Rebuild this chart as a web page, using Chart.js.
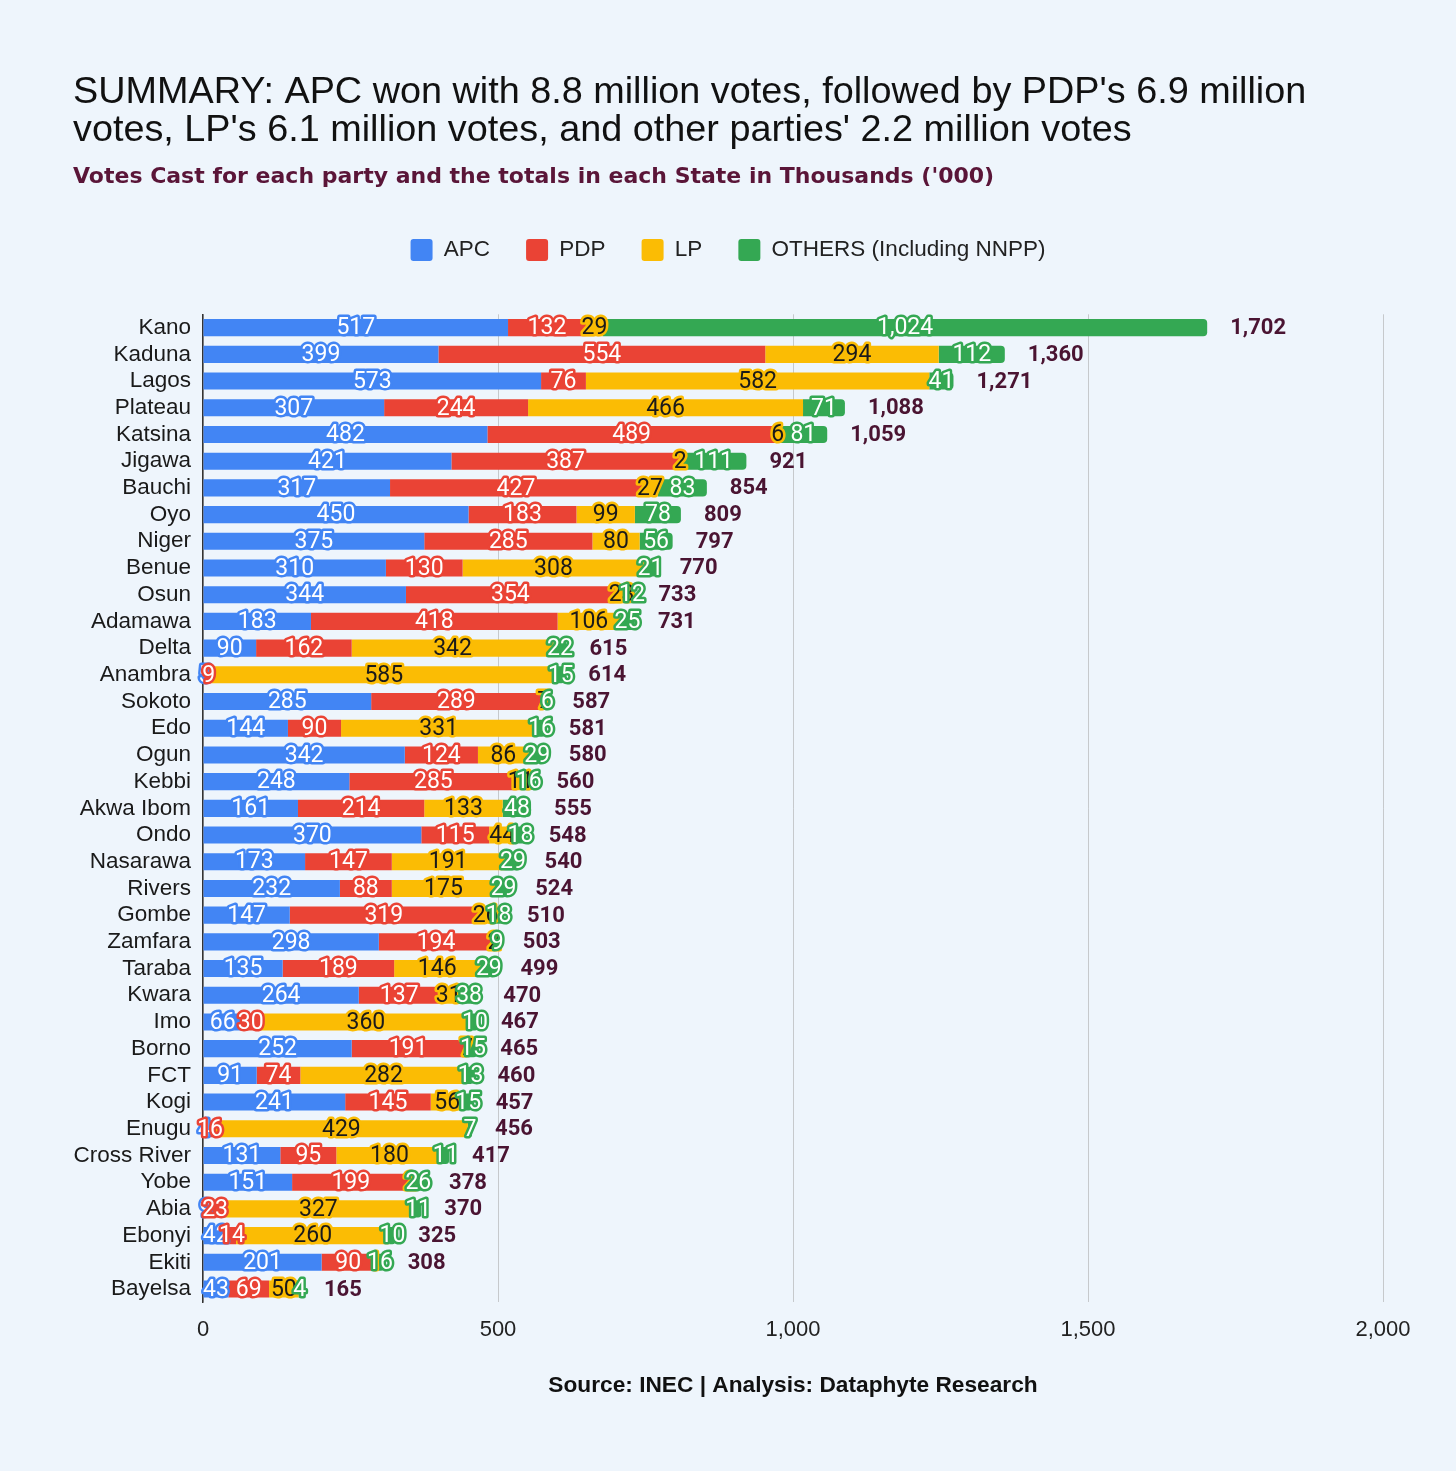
<!DOCTYPE html>
<html>
<head>
<meta charset="utf-8">
<script src="https://cdn.jsdelivr.net/npm/chart.js@4.4.1/dist/chart.umd.min.js"></script>
<style>
  html, body { margin: 0; padding: 0; background: #eef5fc; }
  #wrap { width: 1456px; height: 1471px; }
</style>
</head>
<body>
<div id="wrap"><canvas id="votesChart" width="1456" height="1471"></canvas></div>
<script>
const states = ['Kano', 'Kaduna', 'Lagos', 'Plateau', 'Katsina', 'Jigawa', 'Bauchi', 'Oyo', 'Niger', 'Benue',
  'Osun', 'Adamawa', 'Delta', 'Anambra', 'Sokoto', 'Edo', 'Ogun', 'Kebbi', 'Akwa Ibom', 'Ondo',
  'Nasarawa', 'Rivers', 'Gombe', 'Zamfara', 'Taraba', 'Kwara', 'Imo', 'Borno', 'FCT', 'Kogi',
  'Enugu', 'Cross River', 'Yobe', 'Abia', 'Ebonyi', 'Ekiti', 'Bayelsa'];
const apc = [517, 399, 573, 307, 482, 421, 317, 450, 375, 310,
  344, 183, 90, 5, 285, 144, 342, 248, 161, 370,
  173, 232, 147, 298, 135, 264, 66, 252, 91, 241,
  4, 131, 151, 9, 42, 201, 43];
const pdp = [132, 554, 76, 244, 489, 387, 427, 183, 285, 130,
  354, 418, 162, 9, 289, 90, 124, 285, 214, 115,
  147, 88, 319, 194, 189, 137, 30, 191, 74, 145,
  16, 95, 199, 23, 14, 90, 69];
const lp = [29, 294, 582, 466, 6, 2, 27, 99, 80, 308,
  23, 106, 342, 585, 7, 331, 86, 11, 133, 44,
  191, 175, 26, 2, 146, 31, 360, 7, 282, 56,
  429, 180, 2, 327, 260, 1, 50];
const others = [1024, 112, 41, 71, 81, 111, 83, 78, 56, 21,
  12, 25, 22, 15, 6, 16, 29, 16, 48, 18,
  29, 29, 18, 9, 29, 38, 10, 15, 13, 15,
  7, 11, 26, 11, 10, 16, 4];
const totals = [1702, 1360, 1271, 1088, 1059, 921, 854, 809, 797, 770,
  733, 731, 615, 614, 587, 581, 580, 560, 555, 548,
  540, 524, 510, 503, 499, 470, 467, 465, 460, 457,
  456, 417, 378, 370, 325, 308, 165];

const fmt = v => v.toLocaleString('en-US');
const ARIAL = 'Liberation Sans, Arial, sans-serif';

// labels inside each segment plus the state total after the bar
const barLabels = {
  id: 'barLabels',
  afterDatasetsDraw(chart) {
    const ctx = chart.ctx;
    ctx.save();
    ctx.textBaseline = 'middle';
    ctx.lineJoin = 'round';
    ctx.font = '23px Roboto';
    ctx.textAlign = 'center';
    chart.data.datasets.forEach((ds, i) => {
      chart.getDatasetMeta(i).data.forEach((bar, j) => {
        const txt = fmt(ds.data[j]);
        const x = (bar.x + bar.base) / 2;
        ctx.lineWidth = 5;
        ctx.strokeStyle = ds.backgroundColor;
        ctx.strokeText(txt, x, bar.y + 1);
        ctx.fillStyle = ds.labelColor;
        ctx.fillText(txt, x, bar.y + 1);
      });
    });
    ctx.font = 'bold 22px Roboto';
    ctx.textAlign = 'left';
    ctx.fillStyle = '#4a1432';
    chart.getDatasetMeta(3).data.forEach((bar, j) => {
      ctx.fillText(fmt(totals[j]), bar.x + 23, bar.y + 1);
    });
    ctx.restore();
  }
};

// extra room under the legend
const legendGap = {
  id: 'legendGap',
  beforeInit(chart) {
    const fit = chart.legend.fit;
    chart.legend.fit = function () {
      fit.bind(chart.legend)();
      this.height += 43;
    };
  }
};

new Chart(document.getElementById('votesChart'), {
  type: 'bar',
  data: {
    labels: states,
    datasets: [
      { label: 'APC', data: apc, backgroundColor: '#4285f4', labelColor: '#ffffff' },
      { label: 'PDP', data: pdp, backgroundColor: '#ea4335', labelColor: '#ffffff' },
      { label: 'LP', data: lp, backgroundColor: '#fbbc04', labelColor: '#1a1a1a' },
      { label: 'OTHERS (Including NNPP)', data: others, backgroundColor: '#34a853', labelColor: '#ffffff', borderRadius: 4 }
    ]
  },
  options: {
    indexAxis: 'y',
    responsive: false,
    animation: false,
    categoryPercentage: 0.8,
    barPercentage: 0.8,
    layout: { padding: { left: 73, right: 73, top: 0, bottom: 72 } },
    plugins: {
      title: {
        display: true,
        align: 'start',
        text: ["SUMMARY: APC won with 8.8 million votes, followed by PDP's 6.9 million",
               "votes, LP's 6.1 million votes, and other parties' 2.2 million votes"],
        color: '#111111',
        font: { family: ARIAL, size: 37.8, weight: 'normal', lineHeight: 1.0 },
        padding: { top: 74, bottom: 14.5 }
      },
      subtitle: {
        display: true,
        align: 'start',
        text: "Votes Cast for each party and the totals in each State in Thousands ('000)",
        color: '#5a1538',
        font: { family: 'DejaVu Sans', size: 22, weight: 'bold', lineHeight: 1.2 },
        padding: { top: 0, bottom: 12.3 }
      },
      legend: {
        position: 'top',
        labels: {
          boxWidth: 22,
          boxHeight: 22,
          useBorderRadius: true,
          borderRadius: 3,
          padding: 36,
          color: '#222222',
          font: { family: ARIAL, size: 22.5 }
        }
      },
      tooltip: { enabled: false }
    },
    scales: {
      x: {
        stacked: true,
        min: 0,
        max: 2000,
        ticks: { stepSize: 500, color: '#222222', padding: 14, font: { family: ARIAL, size: 22 } },
        grid: { color: '#c6c9cc', drawTicks: false },
        border: { display: false },
        title: {
          display: true,
          text: 'Source: INEC | Analysis: Dataphyte Research',
          color: '#111111',
          font: { family: ARIAL, size: 22.7, weight: 'bold' },
          padding: { top: 15, bottom: 0 }
        }
      },
      y: {
        stacked: true,
        afterFit: scale => { scale.width = 130; },
        ticks: { color: '#1a1a1a', padding: 12, autoSkip: false, font: { family: ARIAL, size: 22.5 } },
        grid: { display: false, drawTicks: false },
        border: { display: true, color: '#333333', width: 1.5 }
      }
    }
  },
  plugins: [barLabels, legendGap]
});
</script>
</body>
</html>
